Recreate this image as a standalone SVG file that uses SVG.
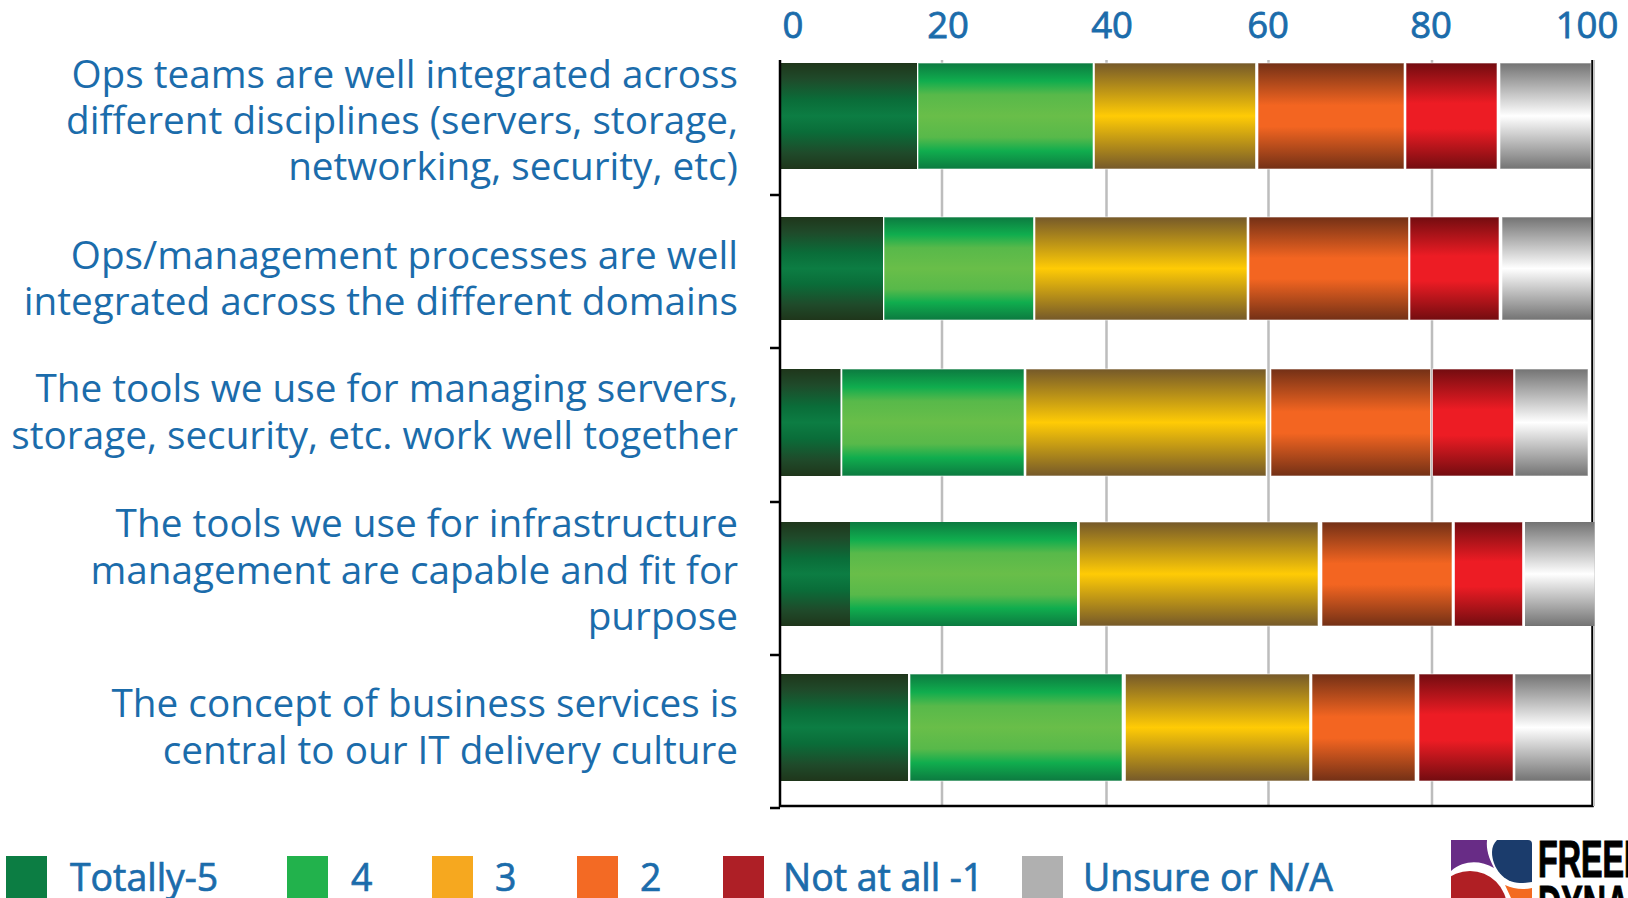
<svg xmlns="http://www.w3.org/2000/svg" width="1628" height="898" viewBox="0 0 1628 898">
<style>
text{font-family:"Open Sans","Noto Sans","Liberation Sans",sans-serif;fill:#1b6cab;font-size:38.7px}
.r{text-anchor:end}
.t{text-anchor:middle;font-size:36.5px;stroke:#1b6cab;stroke-width:.8}
.l{font-size:37.4px;stroke:#1b6cab;stroke-width:.7}
.s{stroke:#fff;stroke-width:1;stroke-opacity:.6}
.g{stroke:#bdbdbd;stroke-width:2.5}
.k{stroke:#000;stroke-width:2.5;fill:none}
.w{font-family:"Liberation Sans",Arial,sans-serif;font-weight:700;font-size:52px;fill:#000;stroke:#000;stroke-width:1.2}
</style>
<defs>
<linearGradient id="a" x1="0" y1="0" x2="0" y2="1"><stop offset="0" stop-color="#1f361b"/><stop offset=".15" stop-color="#1f4a2a"/><stop offset=".35" stop-color="#0a6d39"/><stop offset=".5" stop-color="#0c7d43"/><stop offset=".65" stop-color="#0a6d39"/><stop offset=".85" stop-color="#1f4a2a"/><stop offset="1" stop-color="#1f361b"/></linearGradient>
<linearGradient id="b" x1="0" y1="0" x2="0" y2="1"><stop offset="0" stop-color="#0c7a40"/><stop offset=".17" stop-color="#10ad4e"/><stop offset=".3" stop-color="#58b94a"/><stop offset=".5" stop-color="#69be49"/><stop offset=".7" stop-color="#58b94a"/><stop offset=".83" stop-color="#10ad4e"/><stop offset="1" stop-color="#0c7a40"/></linearGradient>
<linearGradient id="c" x1="0" y1="0" x2="0" y2="1"><stop offset="0" stop-color="#75592a"/><stop offset=".5" stop-color="#ffcb05"/><stop offset="1" stop-color="#75592a"/></linearGradient>
<linearGradient id="d" x1="0" y1="0" x2="0" y2="1"><stop offset="0" stop-color="#733016"/><stop offset=".4" stop-color="#f36521"/><stop offset=".6" stop-color="#f36521"/><stop offset="1" stop-color="#733016"/></linearGradient>
<linearGradient id="e" x1="0" y1="0" x2="0" y2="1"><stop offset="0" stop-color="#730c10"/><stop offset=".38" stop-color="#ed1c24"/><stop offset=".62" stop-color="#ed1c24"/><stop offset="1" stop-color="#730c10"/></linearGradient>
<linearGradient id="f" x1="0" y1="0" x2="0" y2="1"><stop offset="0" stop-color="#737373"/><stop offset=".5" stop-color="#fff"/><stop offset="1" stop-color="#737373"/></linearGradient>
<clipPath id="lc"><rect x="1451" y="830" width="81" height="68"/></clipPath>
</defs>
<g id="gridlines">
<path class="g" d="M942 60V806M1106.500 60V806M1268.500 60V806M1432 60V806"/>
</g>
<g id="axis-labels">
<text class="t" x="793" y="38">0</text><text class="t" x="948" y="38">20</text><text class="t" x="1112" y="38">40</text><text class="t" x="1268" y="38">60</text><text class="t" x="1431" y="38">80</text><text class="t" x="1587" y="38">100</text>
</g>
<g id="row1">
<rect x="780" y="63" width="137" height="106" fill="url(#a)"/><rect class="s" x="918" y="63" width="175" height="106" fill="url(#b)"/><rect class="s" x="1094.500" y="63" width="161" height="106" fill="url(#c)"/><rect class="s" x="1258" y="63" width="146" height="106" fill="url(#d)"/><rect class="s" x="1406" y="63" width="91" height="106" fill="url(#e)"/><rect class="s" x="1500" y="63" width="91" height="106" fill="url(#f)"/>
<text class="r" x="738" y="88">Ops teams are well integrated across</text><text class="r" x="738" y="134">different disciplines (servers, storage,</text><text class="r" x="738" y="180">networking, security, etc)</text>
</g>
<g id="row2">
<rect x="780" y="217" width="103" height="103" fill="url(#a)"/><rect class="s" x="884" y="217" width="149.500" height="103" fill="url(#b)"/><rect class="s" x="1035" y="217" width="212" height="103" fill="url(#c)"/><rect class="s" x="1249" y="217" width="159.500" height="103" fill="url(#d)"/><rect class="s" x="1410" y="217" width="89" height="103" fill="url(#e)"/><rect class="s" x="1502" y="217" width="90" height="103" fill="url(#f)"/>
<text class="r" x="738" y="269">Ops/management processes are well</text><text class="r" x="738" y="315">integrated across the different domains</text>
</g>
<g id="row3">
<rect x="780" y="369" width="60.500" height="107" fill="url(#a)"/><rect class="s" x="842" y="369" width="182" height="107" fill="url(#b)"/><rect class="s" x="1026" y="369" width="240" height="107" fill="url(#c)"/><rect class="s" x="1271" y="369" width="159.500" height="107" fill="url(#d)"/><rect class="s" x="1432.500" y="369" width="81" height="107" fill="url(#e)"/><rect class="s" x="1515" y="369" width="73" height="107" fill="url(#f)"/>
<text class="r" x="738" y="402">The tools we use for managing servers,</text><text class="r" x="738" y="449">storage, security, etc. work well together</text>
</g>
<g id="row4">
<rect x="780" y="522" width="70" height="104" fill="url(#a)"/><rect x="850" y="522" width="227" height="104" fill="url(#b)"/><rect class="s" x="1079.500" y="522" width="238.500" height="104" fill="url(#c)"/><rect class="s" x="1322" y="522" width="130" height="104" fill="url(#d)"/><rect class="s" x="1454.500" y="522" width="68" height="104" fill="url(#e)"/><rect class="s" x="1525" y="522" width="69.500" height="104" fill="url(#f)"/>
<text class="r" x="738" y="537">The tools we use for infrastructure</text><text class="r" x="738" y="584">management are capable and fit for</text><text class="r" x="738" y="630">purpose</text>
</g>
<g id="row5">
<rect x="780" y="674" width="128" height="107" fill="url(#a)"/><rect class="s" x="910" y="674" width="212" height="107" fill="url(#b)"/><rect class="s" x="1125.500" y="674" width="184" height="107" fill="url(#c)"/><rect class="s" x="1312" y="674" width="103" height="107" fill="url(#d)"/><rect class="s" x="1419" y="674" width="94" height="107" fill="url(#e)"/><rect class="s" x="1515" y="674" width="76" height="107" fill="url(#f)"/>
<text class="r" x="738" y="717">The concept of business services is</text><text class="r" x="738" y="764">central to our IT delivery culture</text>
</g>
<g id="axes">
<path class="k" d="M780 60V806H1592.500V60M770 195H780M770 348H780M770 502H780M770 655H780M770 808H780"/>
<path d="M1594 60V806" stroke="#c4c4c4" stroke-width="2"/>
<rect x="1525" y="522" width="69.500" height="104" fill="url(#f)"/>
</g>
<g id="legend">
<rect x="6" y="856" width="41" height="42" fill="#0c7d43"/><text class="l" x="70" y="891">Totally-5</text>
<rect x="287" y="856" width="41" height="42" fill="#22b24c"/><text class="l" x="351" y="891">4</text>
<rect x="432" y="856" width="41" height="42" fill="#f6a81f"/><text class="l" x="495" y="891">3</text>
<rect x="577" y="856" width="41" height="42" fill="#f36a24"/><text class="l" x="640" y="891">2</text>
<rect x="723" y="856" width="41" height="42" fill="#ae1f26"/><text class="l" x="783" y="891">Not at all -1</text>
<rect x="1022" y="856" width="41" height="42" fill="#b0b0b0"/><text class="l" x="1083" y="891">Unsure or N/A</text>
</g>
<g id="logo">
<g clip-path="url(#lc)">
<path d="M1451 840H1487C1486 850 1489 858 1494 868C1480 860 1464 860 1451 871Z" fill="#682c86"/>
<path d="M1497 840H1528a4 4 0 0 1 4 4V882Q1526 883 1520 883C1504 883 1492 868 1492 852C1492 847 1494 843 1497 840Z" fill="#1b3c6c"/>
<circle cx="1470" cy="908" r="37" fill="#b01f24"/>
<path d="M1505 885Q1518 891 1532 888V898H1511Z" fill="#f36a21"/>
</g>
<text class="w" x="0" y="0" transform="translate(1538 877) scale(.62 1)">FREEF</text>
<text class="w" x="0" y="0" transform="translate(1538 922) scale(.62 1)">DYNA</text>
</g>
</svg>
